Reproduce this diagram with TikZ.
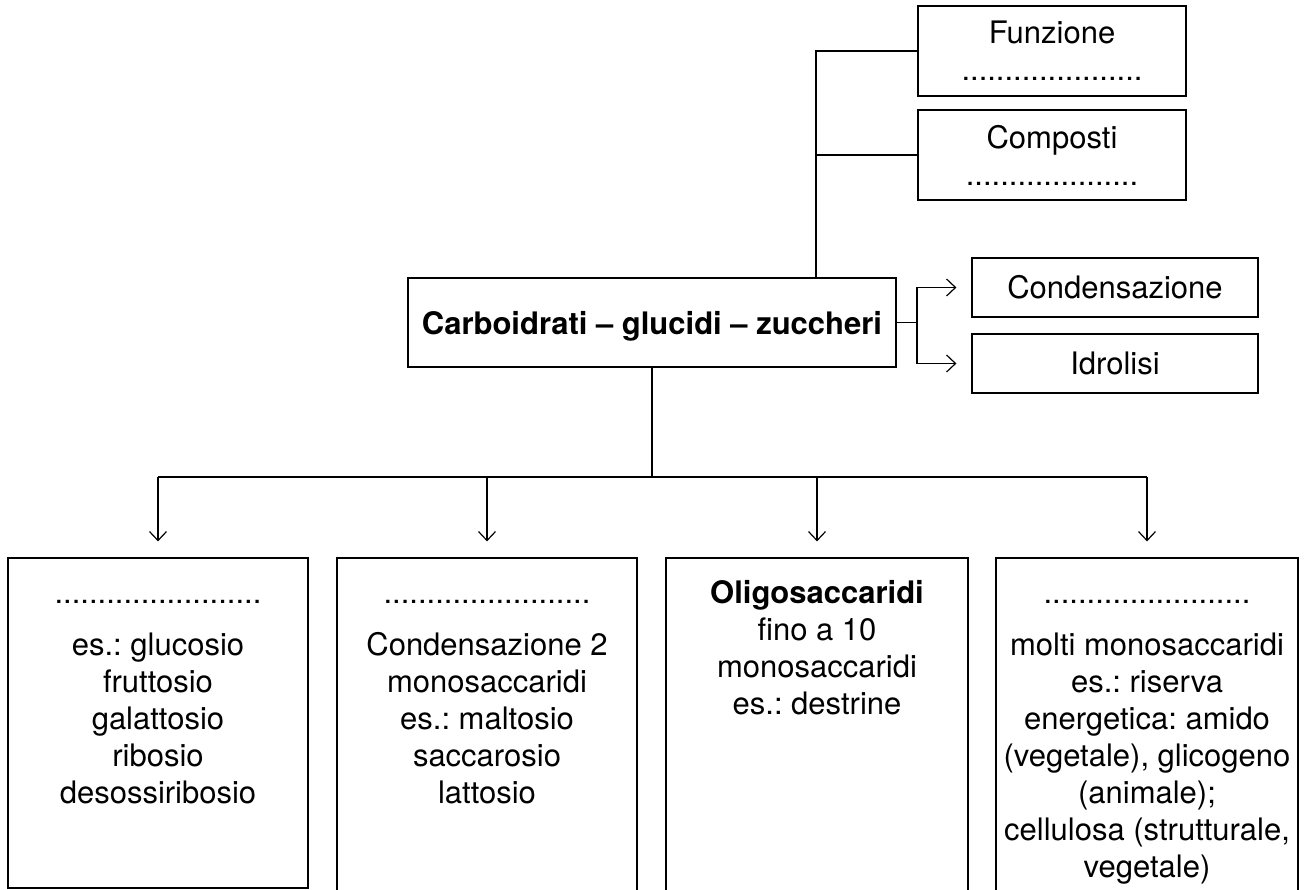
\documentclass[tikz,border=0pt]{standalone}
\usepackage{fontspec}
\setmainfont{TeX Gyre Heros}
\usetikzlibrary{arrows.meta}
\frenchspacing
\begin{document}
\begin{tikzpicture}[x=1pt,y=-1pt,
  box/.style={draw, line width=1.2pt, inner sep=0pt, align=center, font=\fontsize{31}{37}\selectfont},
  link/.style={line width=1.2pt},
  arr/.style={line width=1.2pt, -{Straight Barb[length=9pt,width=17pt,line width=1.2pt]}, shorten >=15pt},
  darr/.style={arr, shorten >=16pt},
  btext/.style={anchor=base, align=center, font=\fontsize{31}{37}\selectfont, inner sep=0pt}
]
\clip (0,0) rectangle (1304,890);
\fill[white] (0,0) rectangle (1304,890);

% top boxes
\node[box, minimum width=268pt, minimum height=90pt] (fun) at (1052,51) {Funzione\\.....................};
\node[box, minimum width=268pt, minimum height=90pt] (comp) at (1052,155) {Composti\\....................};

% central box
\node[box, minimum width=488pt, minimum height=89pt, text depth=0pt] (carb) at (652,322.5) {\bfseries Carboidrati – glucidi – zuccheri};

% right boxes
\node[box, minimum width=286pt, minimum height=59pt] (cond) at (1115,287.5) {Condensazione};
\node[box, minimum width=286pt, minimum height=59pt] (idro) at (1115,363.5) {Idrolisi};

% bottom boxes
\node[box, minimum width=300pt, minimum height=330pt] (b1) at (158,723) {};
\node[box, minimum width=300pt, minimum height=342pt] (b2) at (487,729) {};
\node[box, minimum width=302pt, minimum height=342pt] (b3) at (817,729) {};
\node[box, minimum width=302pt, minimum height=342pt] (b4) at (1147,729) {};

% texts (anchored at the baseline of their last line)
\coordinate (ya) at (0,803);
\coordinate (yb) at (0,714);
\coordinate (yc) at (0,877);
\node[btext] (t1) at (b1.north |- ya) {........................\\[15pt]es.: glucosio\\fruttosio\\galattosio\\ribosio\\desossiribosio};
\node[btext] (t2) at (b2.north |- ya) {........................\\[15pt]Condensazione 2\\monosaccaridi\\es.: maltosio\\saccarosio\\lattosio};
\node[btext] (t3) at (b3.north |- yb) {\textbf{Oligosaccaridi}\\fino a 10\\monosaccaridi\\es.: destrine};
\node[btext] (t4) at (b4.north |- yc) {........................\\[15pt]molti monosaccaridi\\es.: riserva\\energetica: amido\\(vegetale), glicogeno\\(animale);\\cellulosa (strutturale,\\vegetale)};

% connectors top
\coordinate (tj) at (816,51);
\draw[link] (fun.west) -- (tj) -- (tj |- carb.north);
\draw[link] (comp.west) -- (comp.west -| tj);

% connectors right
\coordinate (rj) at (917,322.5);
\draw[link] (carb.east) -- (rj);
\draw[arr] (rj) |- (cond.west);
\draw[arr] (rj) |- (idro.west);

% connectors bottom
\coordinate (bj) at (652,477);
\draw[link] (carb.south) -- (carb.south |- bj);
\draw[link] (b1.north |- bj) -- (b4.north |- bj);
\draw[darr] (b1.north |- bj) -- (b1.north);
\draw[darr] (b2.north |- bj) -- (b2.north);
\draw[darr] (b3.north |- bj) -- (b3.north);
\draw[darr] (b4.north |- bj) -- (b4.north);
\end{tikzpicture}
\end{document}
